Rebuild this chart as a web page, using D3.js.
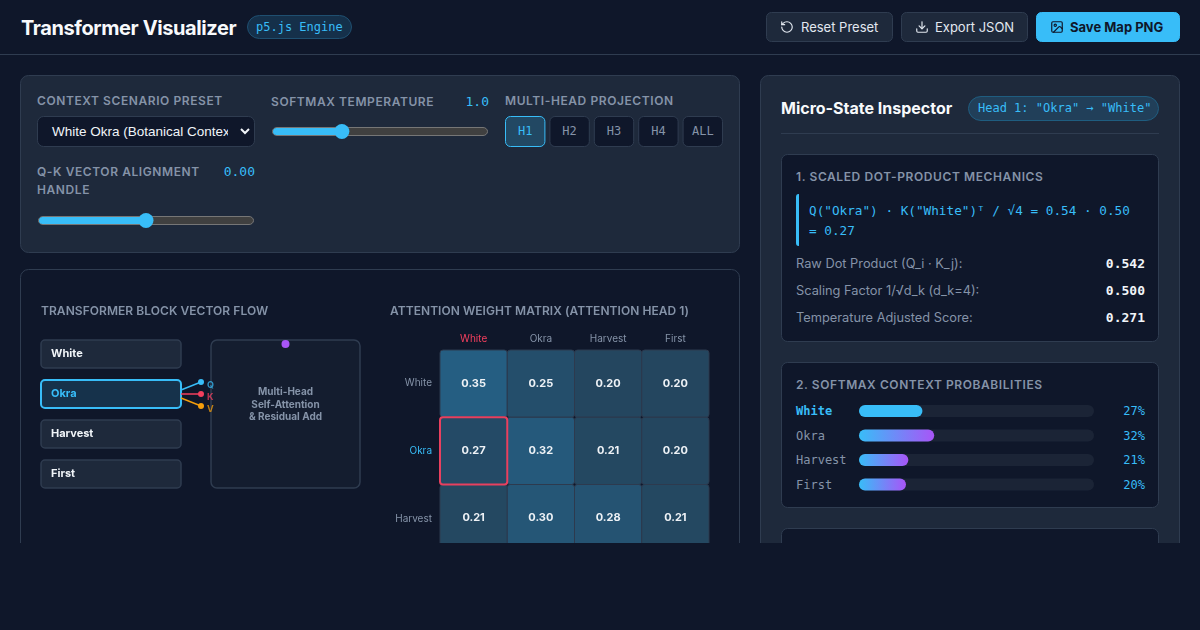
<!DOCTYPE html>
<html>
<head>
<meta charset="utf-8">
<title>Transformer Visualizer</title>
<script src="https://cdn.jsdelivr.net/npm/d3@7"></script>
<style>
  html, body { margin: 0; padding: 0; background: #0f172a; overflow: hidden; }
  svg { display: block; }
  text { font-family: Inter, sans-serif; }
  .mono { font-family: "DejaVu Sans Mono", monospace; }
  .native { font-family: "Liberation Sans", sans-serif; }
  .soft { filter: blur(0.3px); }
</style>
</head>
<body>
<svg id="app" width="1200" height="630"></svg>
<script>
const tokens = ["White", "Okra", "Harvest", "First"];
const matrixRows = ["White", "Okra", "Harvest"];
const matrixValues = [
    [0.35, 0.25, 0.20, 0.20],
    [0.27, 0.32, 0.21, 0.20],
    [0.21, 0.30, 0.28, 0.21]
];
const probValues = [27, 32, 21, 20];
const headButtons = ["H1", "H2", "H3", "H4", "ALL"];
const mechanicLabels = ["Raw Dot Product (Q_i · K_j):", "Scaling Factor 1/√d_k (d_k=4):", "Temperature Adjusted Score:"];
const mechanicValues = ["0.542", "0.500", "0.271"];
const selectedRow = "Okra";
const selectedCol = "White";

const BLUE = "#38bdf8", RED = "#f43f5e", AMBER = "#f59e0b", PURPLE = "#a855f7";
const MUTED = "#8593a8", LINE = "#2f3c50", PANEL = "#1e293b", DARK = "#0f172a";

const svg = d3.select("#app");
const defs = svg.append("defs");
defs.append("clipPath").attr("id", "page").append("rect")
    .attr("width", 1200).attr("height", 543);
defs.append("clipPath").attr("id", "selectClip").append("rect")
    .attr("x", 40).attr("y", 116).attr("width", 188).attr("height", 31);
const grad = defs.append("linearGradient").attr("id", "barGrad");
grad.append("stop").attr("offset", "0%").attr("stop-color", BLUE);
grad.append("stop").attr("offset", "100%").attr("stop-color", PURPLE);

const root = svg.append("g").attr("clip-path", "url(#page)");

function box(g, x, y, w, h, r, fill, stroke, sw) {
    return g.append("rect").attr("x", x + 0.5).attr("y", y + 0.5)
        .attr("width", w - 1).attr("height", h - 1).attr("rx", r)
        .attr("fill", fill).attr("stroke", stroke).attr("stroke-width", sw || 1);
}
function label(g, str, x, y, size, weight, color, spacing, anchor, cls) {
    return g.append("text").attr("x", x).attr("y", y)
        .attr("class", cls || null)
        .attr("text-anchor", anchor || "start")
        .style("font-size", size + "px")
        .style("font-weight", weight)
        .style("letter-spacing", (spacing || 0) + "px")
        .attr("fill", color)
        .text(str);
}
function icon(g, x, y, color, parts) {
    const i = g.append("g")
        .attr("transform", "translate(" + x + "," + y + ") scale(0.5833)")
        .attr("fill", "none").attr("stroke", color).attr("stroke-width", 2)
        .attr("stroke-linecap", "round").attr("stroke-linejoin", "round");
    parts.forEach(d => i.append("path").attr("d", d));
}

// header
root.append("line").attr("x1", 0).attr("x2", 1200).attr("y1", 54.5).attr("y2", 54.5).attr("stroke", LINE);
label(root, "Transformer Visualizer", 21, 35, 20, 700, "#f8fafc", -0.4);
box(root, 247, 15, 105, 24, 12, "#15304a", "#1f4f70");
label(root, "p5.js Engine", 256, 31, 12, 400, BLUE, 0, "start", "mono");

box(root, 766, 12, 127, 30, 5, PANEL, LINE);
icon(root, 780, 20, "#e2e8f0", ["M3 12a9 9 0 1 0 9-9 9.75 9.75 0 0 0-6.74 2.74L3 8", "M3 3v5h5"]);
label(root, "Reset Preset", 801, 32, 13, 400, "#e2e8f0", 0, "start");
box(root, 901, 12, 127, 30, 5, PANEL, LINE);
icon(root, 915, 20, "#e2e8f0", ["M21 15v4a2 2 0 0 1-2 2H5a2 2 0 0 1-2-2v-4", "M7 10l5 5 5-5", "M12 15V3"]);
label(root, "Export JSON", 935, 32, 13, 400, "#e2e8f0", 0, "start");
box(root, 1036, 12, 144, 30, 5, BLUE, BLUE);
icon(root, 1050, 20, "#0f172a", ["M5 3h14a2 2 0 0 1 2 2v14a2 2 0 0 1-2 2H5a2 2 0 0 1-2-2V5a2 2 0 0 1 2-2z", "M11 9a2 2 0 1 1-4 0 2 2 0 0 1 4 0z", "M21 15l-3.086-3.086a2 2 0 0 0-2.828 0L6 21"]);
label(root, "Save Map PNG", 1070, 32, 13, 700, "#0f172a", 0, "start");

// controls panel
box(root, 20, 75, 720, 178, 8, PANEL, LINE);
label(root, "CONTEXT SCENARIO PRESET", 37, 105, 12, 600, MUTED, 0.58);
box(root, 37, 116, 218, 31, 6, DARK, LINE);
root.append("g").attr("clip-path", "url(#selectClip)")
    .call(g => label(g, "White Okra (Botanical Context)", 52, 136, 13.5, 400, "#f1f5f9", 0, "start", "native"));
root.append("path").attr("d", "M241 129l4 4 4-4").attr("fill", "none")
    .attr("stroke", "#f1f5f9").attr("stroke-width", 2);

label(root, "SOFTMAX TEMPERATURE", 271, 106, 12, 600, MUTED, 0.58);
label(root, "1.0", 489, 106, 13, 400, BLUE, 0, "end", "mono");

function slider(x0, x1, y, value, domain) {
    const s = d3.scaleLinear().domain(domain).range([x0 + 7.5, x1 - 7.5]);
    box(root, x0, y - 4.5, x1 - x0, 9, 4.5, "#404040", "#767676");
    root.append("rect").attr("x", x0 + 1).attr("y", y - 3.5).attr("height", 7).attr("rx", 3.5)
        .attr("width", s(value) - x0).attr("fill", BLUE);
    root.append("circle").attr("cx", s(value)).attr("cy", y).attr("r", 7.5).attr("fill", BLUE);
}
slider(272, 488, 131.5, 1.0, [0.1, 3.0]);

label(root, "MULTI-HEAD PROJECTION", 505, 105, 12, 600, MUTED, 0.58);
const headX = d3.scaleBand().domain(headButtons).range([505, 723]).paddingInner(0.09);
headButtons.forEach((h, i) => {
    const on = i === 0;
    box(root, headX(h), 116, headX.bandwidth(), 31, 5, on ? "#224863" : DARK, on ? BLUE : LINE);
    label(root, h, headX(h) + headX.bandwidth() / 2, 135, 12, 400, on ? BLUE : MUTED, 0, "middle", "mono");
});

label(root, "Q-K VECTOR ALIGNMENT", 37, 176, 12, 600, MUTED, 0.58);
label(root, "HANDLE", 37, 194, 12, 600, MUTED, 0.58);
label(root, "0.00", 255, 176, 13, 400, BLUE, 0, "end", "mono");
slider(38, 254, 220.5, 0, [-1, 1]);

// visual panel
box(root, 20, 269, 720, 320, 8, DARK, LINE);
const canvas = root.append("g").attr("class", "soft");
label(canvas, "TRANSFORMER BLOCK VECTOR FLOW", 41, 315, 12, 600, MUTED, 0.05);
label(canvas, "ATTENTION WEIGHT MATRIX (ATTENTION HEAD 1)", 390, 315, 12, 600, MUTED, 0.05);

const tokenY = d3.scaleBand().domain(tokens).range([340, 488]).paddingInner(0.3);
tokens.forEach(t => {
    const on = t === selectedRow;
    canvas.append("rect").attr("x", 41).attr("y", tokenY(t)).attr("width", 140)
        .attr("height", tokenY.bandwidth()).attr("rx", 4)
        .attr("fill", on ? "#16324b" : PANEL)
        .attr("stroke", on ? BLUE : LINE).attr("stroke-width", on ? 2 : 1.5);
    label(canvas, t, 51, tokenY(t) + 17, 11, 700, on ? BLUE : "#f1f5f9");
});

canvas.append("rect").attr("x", 211).attr("y", 340).attr("width", 149).attr("height", 148)
    .attr("rx", 6).attr("fill", "#141d2f").attr("stroke", LINE).attr("stroke-width", 1.5);
canvas.append("circle").attr("cx", 285.5).attr("cy", 344).attr("r", 4).attr("fill", PURPLE);
["Multi-Head", "Self-Attention", "& Residual Add"].forEach((s, i) => {
    label(canvas, s, 285.5, 395 + i * 12.5, 10, 700, MUTED, 0, "middle");
});

const qkv = [["Q", BLUE, 390, 382], ["K", RED, 394, 394], ["V", AMBER, 398, 406]];
qkv.forEach(v => {
    canvas.append("line").attr("x1", 181).attr("y1", v[2]).attr("x2", 201).attr("y2", v[3])
        .attr("stroke", v[1]).attr("stroke-width", 1.5);
    canvas.append("circle").attr("cx", 201).attr("cy", v[3]).attr("r", 3).attr("fill", v[1]);
    label(canvas, v[0], 207, v[3] + 6, 9, 700, v[1]).attr("opacity", 0.75);
});

// heatmap
const cellX = d3.scaleBand().domain(tokens).range([440, 709]);
const cellY = d3.scaleBand().domain(tokens).range([350, 619]);
const cellColor = d3.scaleLinear().domain([0.20, 0.35]).range(["#24465f", "#255e82"]).clamp(true);

matrixRows.forEach((r, ri) => {
    tokens.forEach((c, ci) => {
        const v = matrixValues[ri][ci];
        const sel = r === selectedRow && c === selectedCol;
        canvas.append("rect").attr("x", cellX(c)).attr("y", cellY(r))
            .attr("width", cellX.bandwidth()).attr("height", cellY.bandwidth()).attr("rx", 3)
            .attr("fill", sel ? "#244a66" : cellColor(v))
            .attr("stroke", "#2d3a4e").attr("stroke-width", 1);
        label(canvas, v.toFixed(2), cellX(c) + cellX.bandwidth() / 2, cellY(r) + cellY.bandwidth() / 2 + 3,
            11, 700, "#eef2f6", 0, "middle");
    });
});
canvas.append("rect").attr("x", cellX(selectedCol)).attr("y", cellY(selectedRow))
    .attr("width", cellX.bandwidth()).attr("height", cellY.bandwidth()).attr("rx", 3)
    .attr("fill", "none").attr("stroke", "#e8405f").attr("stroke-width", 2);

const xAxis = d3.axisTop(cellX).tickSize(0).tickPadding(0);
const yAxis = d3.axisLeft(d3.scaleBand().domain(matrixRows).range([349.5, 552.25])).tickSize(0).tickPadding(0);
const gx = canvas.append("g").attr("transform", "translate(0,342)").call(xAxis);
const gy = canvas.append("g").attr("transform", "translate(432,0)").call(yAxis);
gx.select(".domain").remove();
gy.select(".domain").remove();
gx.selectAll("text").style("font-family", "Inter, sans-serif").style("font-size", "10px")
    .attr("fill", d => d === selectedCol ? RED : MUTED);
gy.selectAll("text").style("font-family", "Inter, sans-serif").style("font-size", "10px")
    .attr("fill", d => d === selectedRow ? BLUE : MUTED);

// inspector panel
box(root, 760, 75, 420, 520, 8, PANEL, LINE);
label(root, "Micro-State Inspector", 781, 114, 16, 700, "#f8fafc");
box(root, 968, 96, 191, 25, 12.5, "#213f59", "#1f5d80");
label(root, "Head 1: \"Okra\" → \"White\"", 978, 112, 12, 400, BLUE, 0, "start", "mono");
root.append("line").attr("x1", 781).attr("x2", 1159).attr("y1", 133.5).attr("y2", 133.5).attr("stroke", LINE);

box(root, 781, 154, 378, 188, 6, DARK, LINE);
label(root, "1. SCALED DOT-PRODUCT MECHANICS", 796, 181, 12, 600, MUTED, 0.6);
root.append("rect").attr("x", 796).attr("y", 194).attr("width", 5).attr("height", 52).attr("rx", 3).attr("fill", BLUE);
root.append("rect").attr("x", 799).attr("y", 194).attr("width", 4).attr("height", 52).attr("fill", DARK);
label(root, "Q(\"Okra\") · K(\"White\")ᵀ / √4 = 0.54 · 0.50", 809, 215, 12.7, 400, BLUE, 0, "start", "mono");
label(root, "= 0.27", 809, 235, 12.7, 400, BLUE, 0, "start", "mono");
mechanicLabels.forEach((s, i) => {
    label(root, s, 796, 268 + i * 27, 12.8, 400, MUTED);
    label(root, mechanicValues[i], 1145, 268 + i * 27, 13, 700, "#f1f5f9", 0, "end", "mono");
});

box(root, 781, 362, 378, 146, 6, DARK, LINE);
label(root, "2. SOFTMAX CONTEXT PROBABILITIES", 796, 389, 12, 600, MUTED, 0.58);
const probX = d3.scaleLinear().domain([0, 100]).range([859, 1094]);
const probY = d3.scalePoint().domain(tokens).range([411, 484.5]);
tokens.forEach((t, i) => {
    const first = i === 0;
    label(root, t, 796, probY(t) + 4, 12, first ? 700 : 400, first ? BLUE : MUTED, 0, "start", "mono");
    root.append("rect").attr("x", probX(0)).attr("y", probY(t) - 6).attr("width", probX(100) - probX(0))
        .attr("height", 12).attr("rx", 6).attr("fill", "#1b2436");
    root.append("rect").attr("x", probX(0)).attr("y", probY(t) - 6).attr("width", probX(probValues[i]) - probX(0))
        .attr("height", 12).attr("rx", 6).attr("fill", first ? BLUE : "url(#barGrad)");
    label(root, probValues[i] + "%", 1145, probY(t) + 4, 12, 400, BLUE, 0, "end", "mono");
});

box(root, 781, 528, 378, 120, 6, DARK, LINE);
</script>
</body>
</html>
